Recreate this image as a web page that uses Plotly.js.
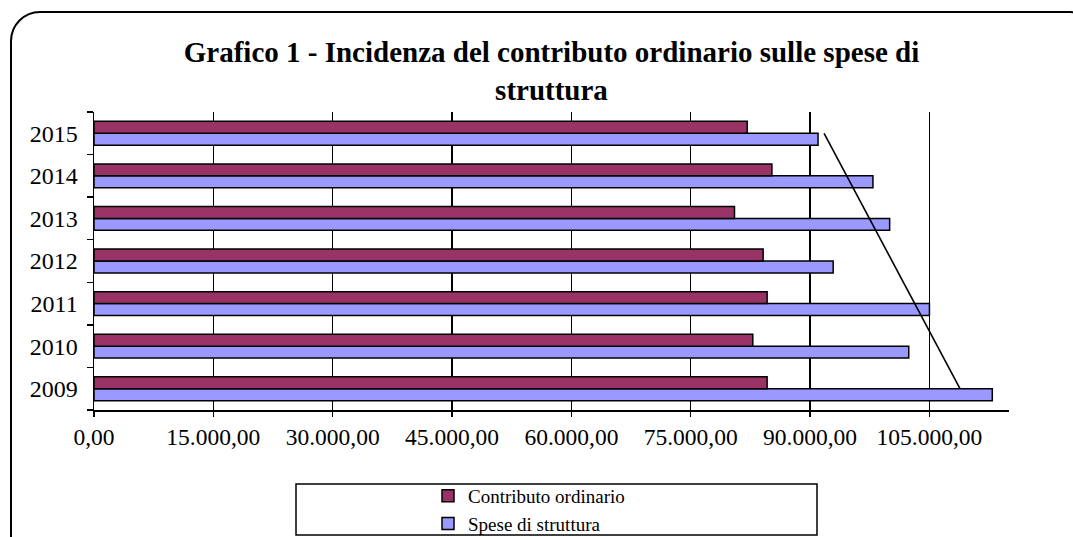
<!DOCTYPE html>
<html>
<head>
<meta charset="utf-8">
<script src="https://cdn.plot.ly/plotly-3.0.1.min.js"></script>
<style>
  html, body { margin: 0; padding: 0; background: #ffffff; overflow: hidden; }
  #wrap { position: relative; width: 1073px; height: 537px; }
  #chart { position: absolute; left: 0; top: 0; width: 1073px; height: 537px; }
  #frame { position: absolute; left: 10px; top: 11px; width: 1090px; height: 560px;
           border: 2px solid #000; border-radius: 30px; pointer-events: none; box-sizing: border-box; }
</style>
</head>
<body>
<div id="wrap">
  <div id="chart"></div>
  <div id="frame"></div>
</div>
<script>
// ---- data ----
const years = ['2009', '2010', '2011', '2012', '2013', '2014', '2015'];
const contributoOrdinario = [84600, 82800, 84600, 84100, 80500, 85200, 82100];
const speseStruttura = [112900, 102400, 105000, 92900, 100000, 97900, 91000];
const seriesNames = ['Contributo ordinario', 'Spese di struttura'];
const seriesColors = ['#993366', '#9999FF'];
const chartTitle = 'Grafico 1 - Incidenza del contributo ordinario sulle spese di<br>struttura';

// ---- linear trend line of "Spese di struttura" (least squares over category index) ----
function linearFit(vals) {
  const n = vals.length;
  let sx = 0, sy = 0, sxx = 0, sxy = 0;
  vals.forEach((v, i) => { const x = i + 1; sx += x; sy += v; sxx += x * x; sxy += x * v; });
  const b = (n * sxy - sx * sy) / (n * sxx - sx * sx);
  const a = (sy - b * sx) / n;
  return i => a + b * (i + 1);
}
const fit = linearFit(speseStruttura);
const trendX = [fit(0), fit(years.length - 1)];
const trendY = [years[0], years[years.length - 1]];

// ---- layout geometry (pixels) ----
const W = 1073, H = 537;
const M = { l: 94, r: 64, t: 112, b: 127, autoexpand: false };
const PW = W - M.l - M.r, PH = H - M.t - M.b;
const px2paperX = px => (px - M.l) / PW;
const px2paperY = py => (H - M.b - py) / PH;

const serif = 'Liberation Serif, Times New Roman, serif';

const traces = [
  {
    type: 'bar', orientation: 'h', name: seriesNames[1],
    y: years, x: speseStruttura,
    marker: { color: seriesColors[1], line: { color: '#000', width: 1.5 } }
  },
  {
    type: 'bar', orientation: 'h', name: seriesNames[0],
    y: years, x: contributoOrdinario,
    marker: { color: seriesColors[0], line: { color: '#000', width: 1.5 } }
  },
  {
    type: 'scatter', mode: 'lines', showlegend: false,
    x: trendX, y: trendY,
    line: { color: '#000', width: 1.6 }
  }
];

const layout = {
  width: W, height: H,
  margin: M,
  paper_bgcolor: '#ffffff', plot_bgcolor: '#ffffff',
  separators: ',.',
  barmode: 'group', bargap: 0.44, bargroupgap: 0,
  showlegend: true,
  hovermode: false,
  title: {
    text: chartTitle,
    font: { family: serif, size: 29, color: '#000', weight: 'bold' },
    xref: 'paper', x: 0.5, xanchor: 'center',
    yref: 'container', y: 1 - 62 / H, yanchor: 'top'
  },
  xaxis: {
    range: [0, 115000], tick0: 0, dtick: 15000, tickformat: ',.2f',
    showgrid: true, gridcolor: '#000', gridwidth: 1.5,
    zeroline: false,
    showline: true, linecolor: '#000', linewidth: 1.5,
    ticks: 'outside', ticklen: 5, tickwidth: 1.5, tickcolor: '#000',
    ticklabelstandoff: 0,
    automargin: false, tickangle: 0,
    tickfont: { family: serif, size: 23.5, color: '#000' }
  },
  yaxis: {
    type: 'category', categoryorder: 'array', categoryarray: years,
    showgrid: false, zeroline: false,
    showline: true, linecolor: '#000', linewidth: 1.5,
    ticks: 'outside', tickson: 'boundaries', ticklen: 6, tickwidth: 1.5, tickcolor: '#000',
    ticklabelstandoff: 10,
    automargin: false,
    tickfont: { family: serif, size: 24, color: '#000' }
  },
  legend: {
    traceorder: 'reversed',
    xref: 'paper', x: px2paperX(428), xanchor: 'left',
    yref: 'paper', y: px2paperY(477), yanchor: 'top',
    bgcolor: 'rgba(0,0,0,0)', borderwidth: 0,
    font: { family: serif, size: 19, color: '#000' },
    tracegroupgap: 0
  },
  shapes: [
    {
      type: 'rect', xref: 'paper', yref: 'paper',
      x0: px2paperX(296), x1: px2paperX(817),
      y0: px2paperY(484), y1: px2paperY(535),
      line: { color: '#000', width: 1.5 }, fillcolor: 'rgba(0,0,0,0)', layer: 'above'
    }
  ]
};

Plotly.newPlot('chart', traces, layout, { staticPlot: true, displayModeBar: false });
</script>
</body>
</html>
